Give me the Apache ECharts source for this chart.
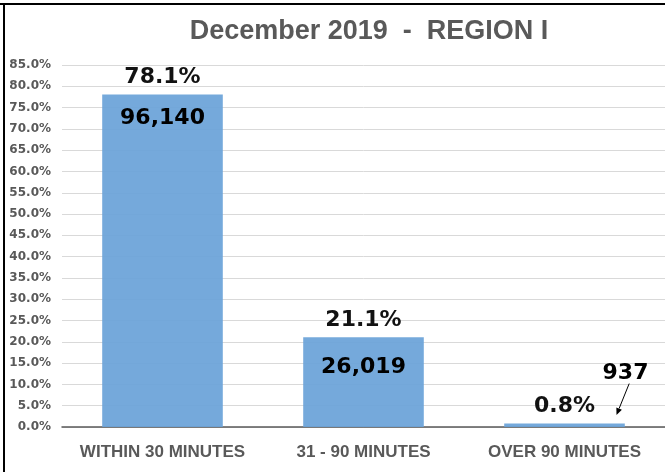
<!DOCTYPE html>
<html>
<head>
<meta charset="utf-8">
<script src="https://cdn.jsdelivr.net/npm/echarts@6/dist/echarts.min.js"></script>
<style>html,body{margin:0;padding:0;background:#fff}#c{width:665px;height:472px}</style>
</head>
<body>
<div id="c"></div>
<script>
const titleText = 'December 2019  -  REGION I';
const categories = ['WITHIN 30 MINUTES', '31 - 90 MINUTES', 'OVER 90 MINUTES'];
const percents = [78.1, 21.1, 0.8];
const counts = [96140, 26019, 937];
const yMin = 0, yMax = 85, yStep = 5;

const chart = echarts.init(document.getElementById('c'));
const gray = '#595959';
const countLabelCfg = [
  {position: 'insideTop', distance: 13},
  {position: 'insideTop', distance: 19},
  {position: 'top', distance: 5, offset: [61, -34]}
];
const option = {
  animation: false,
  backgroundColor: '#fff',
  title: {
    text: titleText, left: 364, top: 13, textAlign: 'center',
    textStyle: {fontFamily: 'Liberation Sans', fontWeight: 'bold', fontSize: 27, color: gray}
  },
  grid: {left: 62, width: 609, top: 65, height: 362, containLabel: false},
  xAxis: {
    type: 'category', data: categories,
    axisLine: {lineStyle: {color: gray, width: 1.5}},
    axisTick: {show: false},
    axisLabel: {margin: 17, fontFamily: 'Liberation Sans', fontWeight: 'bold', fontSize: 17, color: gray, interval: 0}
  },
  yAxis: {
    type: 'value', min: yMin, max: yMax, interval: yStep,
    axisLine: {show: false}, axisTick: {show: false},
    splitLine: {lineStyle: {color: '#d9d9d9', width: 1}},
    axisLabel: {margin: 11, fontFamily: 'DejaVu Sans', fontWeight: 'bold', fontSize: 12, color: gray,
      formatter: v => v.toFixed(1) + '%'}
  },
  series: [
    {
      type: 'bar', data: percents, barCategoryGap: '40%',
      itemStyle: {color: '#6AA2D8', opacity: 0.93},
      label: {show: true, position: 'top', distance: 6, color: '#000',
        fontFamily: 'DejaVu Sans', fontWeight: 'bold', fontSize: 22,
        formatter: p => p.value.toFixed(1) + '%'}
    },
    {
      type: 'bar', barGap: '-100%', barCategoryGap: '40%',
      data: percents.map((v, i) => ({
        value: v,
        label: Object.assign({show: true}, countLabelCfg[i])
      })),
      itemStyle: {color: 'rgba(0,0,0,0)'},
      label: {color: '#000', fontFamily: 'DejaVu Sans', fontWeight: 'bold', fontSize: 22,
        formatter: p => counts[p.dataIndex].toLocaleString('en-US')},
      z: 3
    }
  ]
};
chart.setOption(option);

const p = chart.convertToPixel({xAxisIndex: 0, yAxisIndex: 0}, [categories[2], percents[2]]);
const ax1 = p[0] + 64.7, ay1 = p[1] - 40;
const ax2 = p[0] + 52, ay2 = p[1] - 8.6;
const ang = Math.atan2(ay2 - ay1, ax2 - ax1);
const hl = 7, hw = 3;
const bx = ax2 - hl * Math.cos(ang), by = ay2 - hl * Math.sin(ang);
chart.setOption({
  graphic: [
    {type: 'line', shape: {x1: ax1, y1: ay1, x2: bx, y2: by}, style: {stroke: '#000', lineWidth: 1}, z: 10},
    {type: 'polygon', shape: {points: [
      [ax2, ay2],
      [bx + hw * Math.sin(ang), by - hw * Math.cos(ang)],
      [bx - hw * Math.sin(ang), by + hw * Math.cos(ang)]
    ]}, style: {fill: '#000'}, z: 10},
    {type: 'line', shape: {x1: 0, y1: 4, x2: 665, y2: 4}, style: {stroke: '#000', lineWidth: 2}, z: 10},
    {type: 'line', shape: {x1: 4, y1: 4, x2: 4, y2: 472}, style: {stroke: '#000', lineWidth: 2}, z: 10}
  ]
});
</script>
</body>
</html>
